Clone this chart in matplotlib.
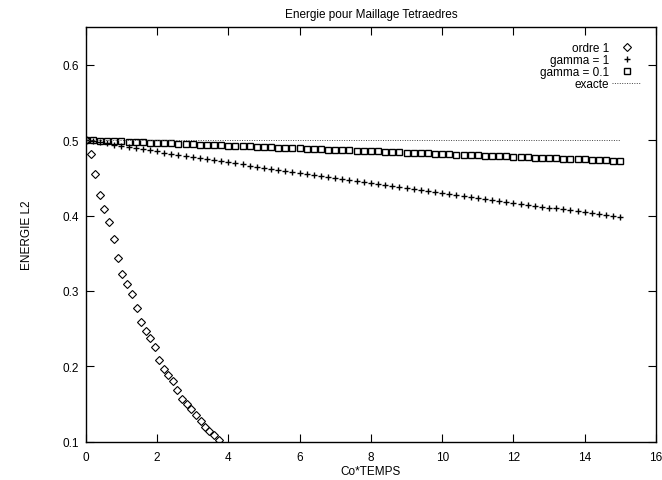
import matplotlib
matplotlib.use('Agg')
import matplotlib.pyplot as plt

plt.rcParams['font.family'] = ['Liberation Sans', 'DejaVu Sans']

# ordre 1 (diamonds)
t_ordre1 = [0.00, 0.14, 0.26, 0.39, 0.52, 0.65, 0.78, 0.91, 1.03, 1.16,
            1.29, 1.43, 1.55, 1.69, 1.81, 1.94, 2.06, 2.19, 2.31, 2.45,
            2.57, 2.71, 2.84, 2.96, 3.09, 3.22, 3.34, 3.47, 3.60, 3.74]
e_ordre1 = [0.500, 0.482, 0.455, 0.427, 0.408, 0.391, 0.369, 0.343, 0.323, 0.309,
            0.296, 0.277, 0.259, 0.247, 0.237, 0.225, 0.209, 0.196, 0.188, 0.180,
            0.169, 0.157, 0.150, 0.144, 0.136, 0.127, 0.120, 0.114, 0.109, 0.102]

# time grid of the gamma runs
temps = [0.0, 0.2, 0.4, 0.6, 0.8, 1.0, 1.2, 1.4, 1.6, 1.8,
         2.0, 2.2, 2.4, 2.6, 2.8, 3.0, 3.2, 3.4, 3.6, 3.8,
         4.0, 4.2, 4.4, 4.6, 4.8, 5.0, 5.2, 5.4, 5.6, 5.8,
         6.0, 6.2, 6.4, 6.6, 6.8, 7.0, 7.2, 7.4, 7.6, 7.8,
         8.0, 8.2, 8.4, 8.6, 8.8, 9.0, 9.2, 9.4, 9.6, 9.8,
         10.0, 10.2, 10.4, 10.6, 10.8, 11.0, 11.2, 11.4, 11.6, 11.8,
         12.0, 12.2, 12.4, 12.6, 12.8, 13.0, 13.2, 13.4, 13.6, 13.8,
         14.0, 14.2, 14.4, 14.6, 14.8, 15.0]

# gamma = 1 (plus)
e_gamma1 = [0.5000, 0.4985, 0.4970, 0.4955, 0.4940, 0.4925, 0.4910, 0.4895, 0.4880, 0.4865,
            0.4850, 0.4835, 0.4821, 0.4806, 0.4792, 0.4777, 0.4763, 0.4749, 0.4734, 0.4720,
            0.4706, 0.4692, 0.4678, 0.4663, 0.4649, 0.4635, 0.4621, 0.4607, 0.4593, 0.4579,
            0.4565, 0.4551, 0.4538, 0.4524, 0.4511, 0.4497, 0.4483, 0.4470, 0.4456, 0.4443,
            0.4429, 0.4416, 0.4402, 0.4389, 0.4375, 0.4362, 0.4349, 0.4336, 0.4323, 0.4310,
            0.4297, 0.4284, 0.4271, 0.4258, 0.4245, 0.4232, 0.4219, 0.4207, 0.4194, 0.4182,
            0.4169, 0.4156, 0.4144, 0.4131, 0.4119, 0.4106, 0.4094, 0.4081, 0.4069, 0.4056,
            0.4044, 0.4032, 0.4019, 0.4007, 0.3995, 0.3983]

# gamma = 0.1 (squares)
e_gamma01 = [0.5000, 0.4996, 0.4993, 0.4989, 0.4985, 0.4982, 0.4978, 0.4974, 0.4971, 0.4967,
             0.4963, 0.4960, 0.4956, 0.4952, 0.4949, 0.4945, 0.4941, 0.4938, 0.4934, 0.4930,
             0.4927, 0.4923, 0.4919, 0.4916, 0.4912, 0.4908, 0.4905, 0.4901, 0.4897, 0.4894,
             0.4890, 0.4886, 0.4883, 0.4879, 0.4875, 0.4872, 0.4868, 0.4864, 0.4861, 0.4857,
             0.4853, 0.4850, 0.4846, 0.4842, 0.4839, 0.4835, 0.4831, 0.4828, 0.4824, 0.4820,
             0.4817, 0.4813, 0.4809, 0.4806, 0.4802, 0.4798, 0.4795, 0.4791, 0.4787, 0.4784,
             0.4780, 0.4776, 0.4773, 0.4769, 0.4765, 0.4762, 0.4758, 0.4754, 0.4751, 0.4747,
             0.4743, 0.4740, 0.4736, 0.4732, 0.4729, 0.4725]

# exact energy
t_exacte = [0.0, 15.0]
e_exacte = [0.5, 0.5]

fig = plt.figure(figsize=(6.62, 4.81), dpi=100)
ax = fig.add_axes([0.1295, 0.0796, 0.8615, 0.8622])

ax.plot(t_ordre1, e_ordre1, linestyle='none', marker='D', markersize=3.6,
        mfc='none', mec='black', mew=0.8, label='ordre 1')
ax.plot(temps, e_gamma1, linestyle='none', marker='+', markersize=5,
        mec='black', mew=1.0, label='gamma = 1')
ax.plot(temps, e_gamma01, linestyle='none', marker='s', markersize=4.6,
        mfc='none', mec='black', mew=1.0, label='gamma = 0.1')
ax.plot(t_exacte, e_exacte, linestyle=(0, (1, 1.5)), color='#444444',
        lw=0.7, label='exacte')

ax.set_xlim(0, 16)
ax.set_ylim(0.1, 0.65)
ax.set_xticks([0, 2, 4, 6, 8, 10, 12, 14, 16])
ax.set_yticks([0.1, 0.2, 0.3, 0.4, 0.5, 0.6])
ax.tick_params(direction='in', length=6, width=0.8, top=True, right=True,
               labelsize=8.5)
ax.tick_params(axis='x', pad=7)
ax.tick_params(axis='y', pad=5)
for s in ax.spines.values():
    s.set_linewidth(1.0)

ax.set_title('Energie pour Maillage Tetraedres', fontsize=8.5, pad=7)
ax.set_xlabel('Co*TEMPS', fontsize=8.5, labelpad=1)
ax.set_ylabel('ENERGIE L2', fontsize=8.5, labelpad=21)

# text on the left, marker on the right; rows are right-aligned
ax.legend(loc='upper right', frameon=False, markerfirst=False,
          fontsize=8.5, handlelength=2.4, handletextpad=0.3,
          labelspacing=0.0, borderaxespad=0.7, borderpad=0.6)

fig.savefig('out.png', dpi=100)
